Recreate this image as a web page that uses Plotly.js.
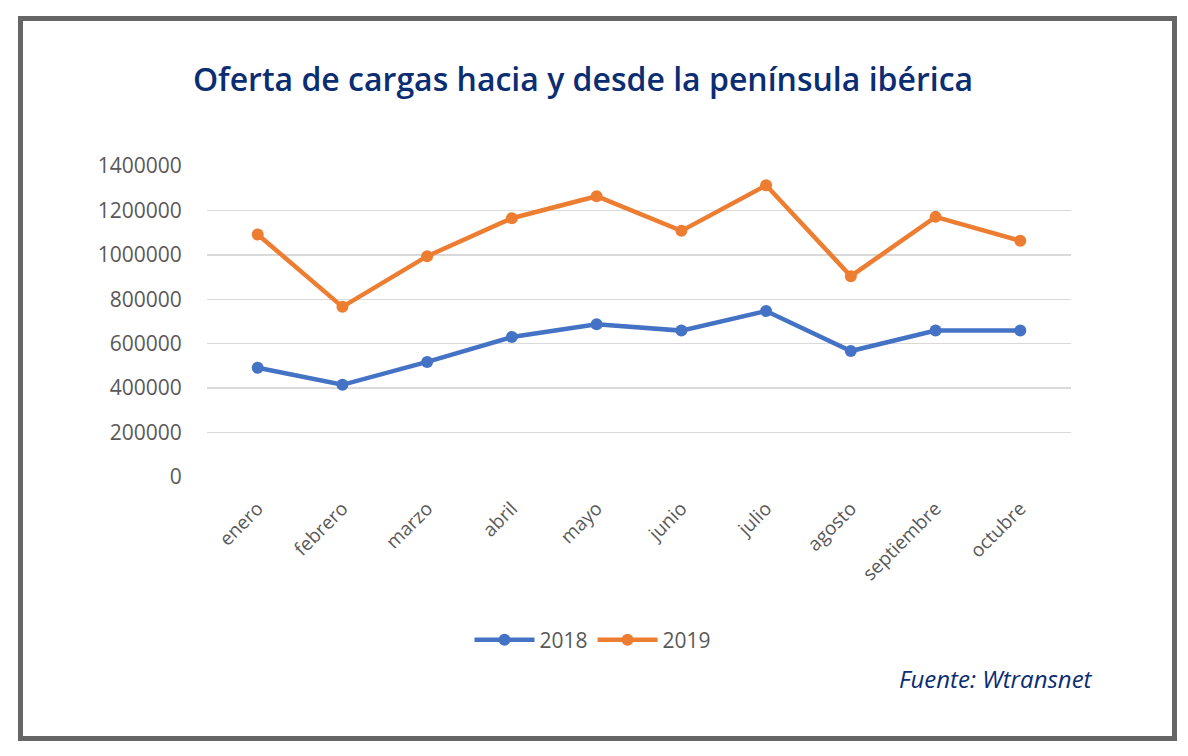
<!DOCTYPE html>
<html>
<head>
<meta charset="utf-8">
<script src="https://cdn.plot.ly/plotly-3.0.1.min.js"></script>
<style>
  html, body { margin: 0; padding: 0; background: #fff; }
  #chart { width: 1188px; height: 756px; }
</style>
</head>
<body>
<div id="chart"></div>
<script>
const months = ["enero", "febrero", "marzo", "abril", "mayo", "junio", "julio", "agosto", "septiembre", "octubre"];
const values2018 = [492000, 415000, 518000, 630000, 688000, 659000, 747000, 567000, 659000, 659000];
const values2019 = [1092000, 766000, 994000, 1165000, 1264000, 1108000, 1313000, 904000, 1171000, 1063000];
const yTicks = [0, 200000, 400000, 600000, 800000, 1000000, 1200000, 1400000];
const seriesNames = ["2018", "2019"];

const traces = [
  {
    x: months, y: values2018, name: seriesNames[0], type: "scatter", mode: "lines+markers",
    line: { color: "#4472C4", width: 4.5 },
    marker: { color: "#4472C4", size: 12 }
  },
  {
    x: months, y: values2019, name: seriesNames[1], type: "scatter", mode: "lines+markers",
    line: { color: "#ED7D31", width: 4.5 },
    marker: { color: "#ED7D31", size: 12 }
  }
];

const W = 1188, H = 756;
const L = 207, R = 117, T = 166, B = 279;
const pw = W - L - R, ph = H - T - B;
function px2paperX(px) { return (px - L) / pw; }
function px2paperY(py) { return (H - B - py) / ph; }

const layout = {
  width: W, height: H,
  margin: { l: L, r: R, t: T, b: B, pad: 0 },
  paper_bgcolor: "#ffffff",
  plot_bgcolor: "#ffffff",
  font: { family: "Open Sans, sans-serif", color: "#595959" },
  title: {
    text: "Oferta de cargas hacia y desde la península ibérica",
    font: { family: "Open Sans, sans-serif", size: 32, weight: 600, color: "#0B2D72" },
    x: 583 / W, xanchor: "center",
    y: 1 - 80 / H, yanchor: "middle"
  },
  xaxis: {
    type: "category",
    tickangle: -45,
    tickfont: { size: 19, color: "#595959" },
    ticks: "outside", ticklen: 12, tickcolor: "rgba(0,0,0,0)",
    showgrid: false, zeroline: false, showline: false,
    fixedrange: true
  },
  yaxis: {
    range: [0, 1400000],
    tickvals: yTicks,
    ticktext: yTicks.map(v => String(v)),
    tickfont: { size: 21, color: "#595959" },
    ticks: "outside", ticklen: 20, tickcolor: "rgba(0,0,0,0)",
    showgrid: true, gridcolor: "#D9D9D9", gridwidth: 1.3,
    zeroline: false, showline: false,
    fixedrange: true
  },
  showlegend: true,
  legend: {
    orientation: "h",
    x: px2paperX(593), xanchor: "center",
    y: px2paperY(640), yanchor: "middle",
    font: { size: 21, color: "#595959" },
    itemwidth: 60
  },
  annotations: [
    {
      xref: "paper", yref: "paper",
      x: px2paperX(1095), xanchor: "right",
      y: px2paperY(678), yanchor: "middle",
      text: "<i>Fuente: Wtransnet</i>",
      showarrow: false,
      font: { family: "Open Sans, sans-serif", size: 24, color: "#0B2D72" }
    }
  ],
  shapes: [
    {
      type: "rect", xref: "paper", yref: "paper",
      x0: px2paperX(20.5), x1: px2paperX(1174.5),
      y0: px2paperY(18.5), y1: px2paperY(738.5),
      line: { color: "#666666", width: 5 },
      fillcolor: "rgba(0,0,0,0)",
      layer: "above"
    }
  ]
};

Plotly.newPlot("chart", traces, layout, { displayModeBar: false, staticPlot: true });
</script>
</body>
</html>
